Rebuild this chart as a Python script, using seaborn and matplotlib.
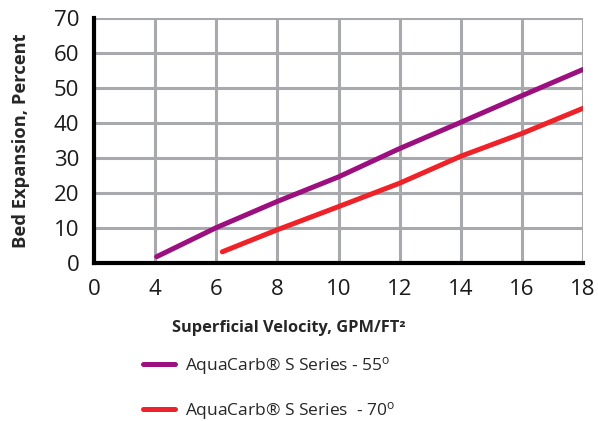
import pandas as pd
import matplotlib
matplotlib.use('Agg')
import matplotlib.pyplot as plt
import seaborn as sns

# data
vel_55 = [4.05, 6, 8, 10, 12, 14, 16, 18]
exp_55 = [1.8, 10.1, 17.6, 24.6, 32.7, 40.2, 47.8, 55.3]
vel_70 = [6.2, 8, 10, 12, 14, 16, 18]
exp_70 = [3.2, 9.5, 16.1, 22.8, 30.5, 37.0, 44.2]

# axis is broken: "0" label sits where 2 would be
x_ticks = [2, 4, 6, 8, 10, 12, 14, 16, 18]
x_labels = ['0', '4', '6', '8', '10', '12', '14', '16', '18']
y_ticks = [0, 10, 20, 30, 40, 50, 60, 70]

label_55 = 'AquaCarb® S Series - 55$^\\mathregular{o}$'
label_70 = 'AquaCarb® S Series  - 70$^\\mathregular{o}$'

df = pd.concat([
    pd.DataFrame({'velocity': vel_55, 'expansion': exp_55, 'series': label_55}),
    pd.DataFrame({'velocity': vel_70, 'expansion': exp_70, 'series': label_70}),
])

sns.set_style('white')
plt.rcParams['font.family'] = ['Open Sans', 'DejaVu Sans']
plt.rcParams['mathtext.default'] = 'regular'

grid_col = '#a7a9ac'
fig = plt.figure(figsize=(5.98, 4.21), dpi=100)
ax = fig.add_axes([94 / 598, 1 - 263 / 421, (583 - 94) / 598, (263 - 18) / 421])

ax.set_xlim(2, 18)
ax.set_ylim(0, 70)
ax.set_xticks(x_ticks)
ax.set_xticklabels(x_labels)
ax.set_yticks(y_ticks)
ax.grid(True, color=grid_col, linewidth=2.2)
ax.set_axisbelow(True)

sns.lineplot(data=df, x='velocity', y='expansion', hue='series',
             palette=['#9c0f7f', '#ee2229'], linewidth=3.6, ax=ax,
             legend=False, sort=False, estimator=None)

for s in ['top', 'right']:
    ax.spines[s].set_visible(False)
for s in ['left', 'bottom']:
    ax.spines[s].set_color('black')
    ax.spines[s].set_linewidth(3)
    ax.spines[s].set_zorder(3)

ax.tick_params(axis='both', direction='out', length=5.5, width=2.2,
               color=grid_col, labelsize=16, labelcolor='#1a1a1a')
ax.tick_params(axis='x', pad=6)
ax.tick_params(axis='y', pad=5)
ax.xaxis.get_major_ticks()[0].tick1line.set_color('black')
ax.yaxis.get_major_ticks()[0].tick1line.set_color('black')
for t in ax.get_xticklines() + ax.get_yticklines():
    t.set_clip_on(False)

ax.set_xlabel('Superficial Velocity, GPM/FT²', fontsize=11.8, fontweight='bold')
ax.xaxis.set_label_coords((289 - 94) / 489, -0.232)
ax.set_ylabel('Bed Expansion, Percent', fontsize=13.2, fontweight='bold',
              labelpad=17)

handles = [plt.Line2D([], [], color='#9c0f7f', linewidth=3.6, solid_capstyle='round'),
           plt.Line2D([], [], color='#ee2229', linewidth=3.6, solid_capstyle='round')]
fig.legend(handles, [label_55, label_70], loc='upper left',
           bbox_to_anchor=(143 / 598, 1 - 355 / 421), frameon=False,
           borderpad=0, borderaxespad=0,
           fontsize=12.5, handlelength=1.84, handletextpad=0.57, labelspacing=1.3)

fig.savefig('out.png', dpi=100)
